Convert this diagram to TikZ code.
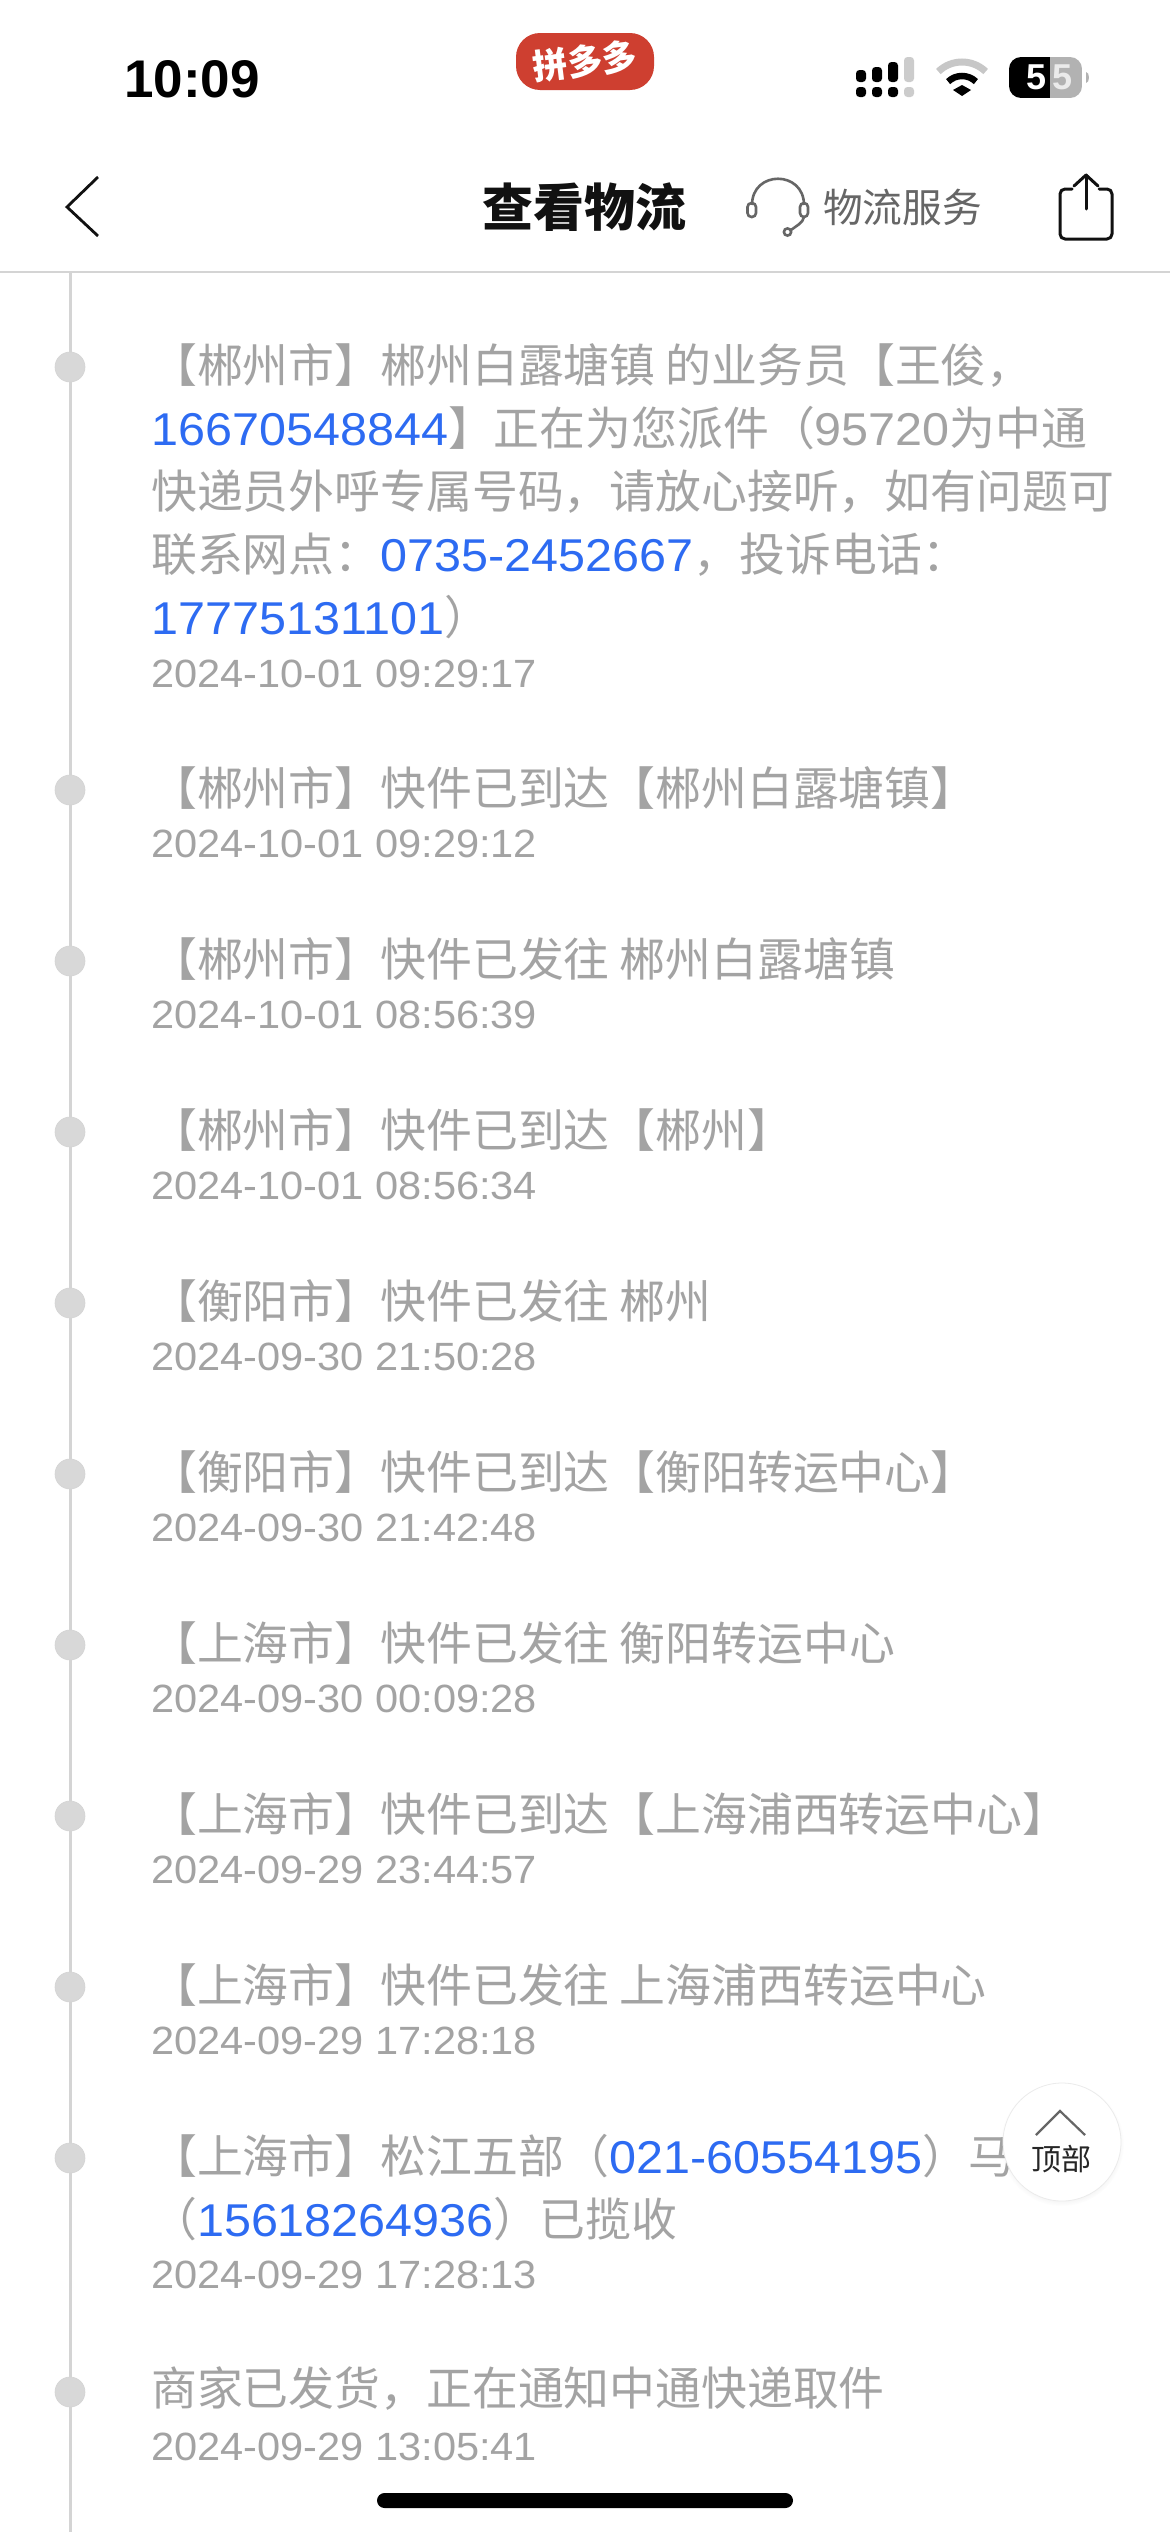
\documentclass[tikz,border=0pt]{standalone}
\usepackage{fontspec}
\usetikzlibrary{shadows}

\newfontfamily\cjk{Noto Sans CJK SC}
\newfontfamily\latin[FakeStretch=1.055]{Liberation Sans}
\newfontfamily\clock{Liberation Sans}

\definecolor{railgray}{HTML}{D4D4D4}
\definecolor{dotgray}{HTML}{D8D8D8}
\definecolor{textgray}{HTML}{A3A3A3}
\definecolor{linkblue}{HTML}{2D6BF2}
\definecolor{navgray}{HTML}{666666}
\definecolor{pillred}{HTML}{CE3F30}
\definecolor{barblack}{HTML}{111111}

\newcommand\msgfont{\cjk\fontsize{45.85}{63}\selectfont}
\newcommand\stampfont{\latin\fontsize{39.4}{50}\selectfont}
\newcommand\lat[1]{{\latin\fontsize{46}{63}\selectfont #1}}
\newcommand\tel[1]{{\color{linkblue}\lat{#1}}}

\tikzset{
  rail/.style={railgray, line width=3},
  tick/.style={circle, fill=dotgray, draw=railgray, line width=.6, inner sep=0, minimum size=30},
  msg/.style={anchor=base west, inner sep=0, text=textgray, font=\msgfont},
  stampnode/.style={anchor=base west, inner sep=0, text=textgray, font=\stampfont},
  bars/.style={rounded corners=3.5}
}

\begin{document}
\begin{tikzpicture}[x=1pt, y=-1pt]
\useasboundingbox[fill=white] (0,0) rectangle (1170,2532);

% status bar
\node[anchor=base, inner sep=0, font=\clock\bfseries\fontsize{53}{53}\selectfont] (clock) at (192,97) {10:09};
\node[fill=pillred, rounded corners=24, minimum width=138, minimum height=57, inner sep=0] (pill) at (585,61.5) {};
\node[rotate=7, inner sep=0, text=white, font=\cjk\bfseries\fontsize{35}{35}\selectfont] (pilltext) at (585,61) {拼多多};

\foreach \x/\ytop in {856/70, 872/67, 888/62} {
  \fill[bars] (\x,\ytop) rectangle (\x+10,82);
  \fill[bars] (\x,87) rectangle (\x+10,97);
}
\fill[bars, fill=black!20] (904,57) rectangle (914,82);
\fill[bars, fill=black!20] (904,87) rectangle (914,97);

\draw[black!22, line width=7] (962,96) ++(-46:34) arc[start angle=-46, end angle=-134, radius=34];
\draw[black, line width=6.5] (962,96) ++(-46:20) arc[start angle=-46, end angle=-134, radius=20];
\fill (953,90) -- (962,85) -- (971,90) -- (962,96) -- cycle;

\begin{scope}
\clip[rounded corners=12] (1009,57) rectangle (1082,98);
\fill[black] (1009,57) rectangle (1050,98);
\fill[black!30] (1050,57) rectangle (1082,98);
\end{scope}
\fill[black!30] (1086,72) to[out=0, in=0] (1086,83) -- cycle;
\node[inner sep=0, text=white, font=\clock\bfseries\fontsize{36}{36}\selectfont] (batone) at (1036,77) {5};
\node[inner sep=0, text=white!92!black, font=\clock\bfseries\fontsize{36}{36}\selectfont] (battwo) at (1062,77) {5};

% nav bar
\draw[barblack, line width=2.8] (98,177) -- (67,207) -- (98,236);
\node[anchor=base, inner sep=0, text=barblack, font=\cjk\bfseries\fontsize{51}{51}\selectfont] (title) at (584,226) {查看物流};

\begin{scope}[navgray, line width=2.6]
\draw (752,205) .. controls (752,170) and (804,170) .. (804,205);
\draw[rounded corners=4] (747.5,203) rectangle (756,217);
\draw[rounded corners=4] (800,203) rectangle (808,217);
\draw (804,217) .. controls (803,223) and (796,226) .. (791,230);
\draw (787.5,232) circle[radius=3.6];
\end{scope}
\node[anchor=base west, inner sep=0, text=navgray, font=\cjk\fontsize{39.7}{39.7}\selectfont] (service) at (823,222) {物流服务};

\begin{scope}[barblack, line width=3, line cap=round, line join=round]
\draw[rounded corners=5] (1072,189) -- (1060,189) -- (1060,239) -- (1112,239) -- (1112,189) -- (1099,189);
\draw (1086,209) -- (1086,175);
\draw (1074,186) -- (1086,175) -- (1098,186);
\end{scope}

\draw[railgray, line width=2] (0,272) -- (1170,272);

% timeline
\coordinate (railtop) at (70,272);
\coordinate (railend) at (70,2532);
\draw[rail] (railtop) -- (railend);

\node[tick] (dot1) at (70,367) {};
\foreach \n/\body in {
  0/【郴州市】郴州白露塘镇 的业务员【王俊，,
  1/\tel{16670548844}】正在为您派件（\lat{95720}为中通,
  2/快递员外呼专属号码，请放心接听，如有问题可,
  3/联系网点：\tel{0735-2452667}，投诉电话：,
  4/\tel{17775131101}）} {
  \node[msg] (first\n) at (151,382+63*\n) {\body};
}
\node[stampnode] (stamp1) at (151,687) {2024-10-01 09:29:17};

\foreach \i/\ypos/\body/\when in {
  2/790/【郴州市】快件已到达【郴州白露塘镇】/2024-10-01 09:29:12,
  3/961/【郴州市】快件已发往 郴州白露塘镇/2024-10-01 08:56:39,
  4/1132/【郴州市】快件已到达【郴州】/2024-10-01 08:56:34,
  5/1303/【衡阳市】快件已发往 郴州/2024-09-30 21:50:28,
  6/1474/【衡阳市】快件已到达【衡阳转运中心】/2024-09-30 21:42:48,
  7/1645/【上海市】快件已发往 衡阳转运中心/2024-09-30 00:09:28,
  8/1816/【上海市】快件已到达【上海浦西转运中心】/2024-09-29 23:44:57,
  9/1987/【上海市】快件已发往 上海浦西转运中心/2024-09-29 17:28:18} {
  \node[tick] (dot\i) at (70,\ypos) {};
  \node[msg] (msg\i) at (151,\ypos+15) {\body};
  \node[stampnode] (stamp\i) at (151,\ypos+67.5) {\when};
}

\node[tick] (dot10) at (70,2158) {};
\node[msg] (msg10) at (151,2173) {【上海市】松江五部（\tel{021-60554195}）马};
\node[msg] (more10) at (151,2236) {（\tel{15618264936}）已揽收};
\node[stampnode] (stamp10) at (151,2288) {2024-09-29 17:28:13};

\node[tick] (dot11) at (70,2392) {};
\node[msg] (msg11) at (151,2405) {商家已发货，正在通知中通快递取件};
\node[stampnode] (stamp11) at (151,2460) {2024-09-29 13:05:41};

% back to top
\node[circle, fill=white, draw=black!8, line width=.8, minimum size=118, inner sep=0,
  circular drop shadow={shadow xshift=0pt, shadow yshift=-2pt, shadow scale=1.05, opacity=.12}] (topbtn) at (1062,2142) {};
\draw[navgray, line width=2.2] (1036,2135) -- (1060,2111) -- (1085,2135);
\node[inner sep=0, text=black!85, font=\cjk\fontsize{30}{30}\selectfont] (toplabel) at (1061,2159) {顶部};

% home indicator
\fill[rounded corners=7.5] (377,2493) rectangle (793,2508);

\end{tikzpicture}
\end{document}
